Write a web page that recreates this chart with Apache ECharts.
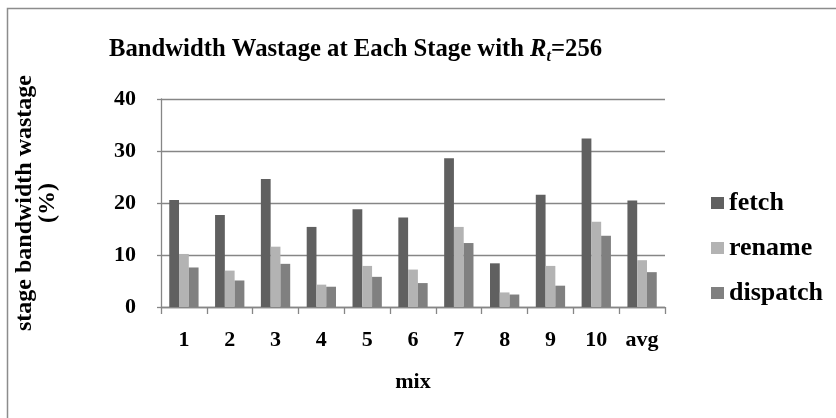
<!DOCTYPE html>
<html>
<head>
<meta charset="utf-8">
<script src="https://cdn.jsdelivr.net/npm/echarts@6/dist/echarts.min.js"></script>
<style>
  html, body { margin: 0; padding: 0; background: #fff; }
  #chart { width: 836px; height: 418px; }
</style>
</head>
<body>
<div id="chart"></div>
<script>
// Mix workloads along the x axis
const mixes = ['1', '2', '3', '4', '5', '6', '7', '8', '9', '10', 'avg'];

// Bandwidth wastage (%) per pipeline stage
const fetchWaste    = [20.6, 17.7, 24.6, 15.4, 18.8, 17.2, 28.6, 8.4, 21.6, 32.4, 20.5];
const renameWaste   = [10.2, 7.0, 11.6, 4.3, 7.9, 7.2, 15.4, 2.8, 7.9, 16.4, 9.0];
const dispatchWaste = [7.6, 5.1, 8.3, 3.9, 5.8, 4.6, 12.3, 2.4, 4.1, 13.7, 6.7];

const yTicks = [0, 10, 20, 30, 40];

const serif = 'Liberation Serif, Times New Roman, serif';
const gray = '#868686';

const chart = echarts.init(document.getElementById('chart'), null, { renderer: 'canvas' });

function bar(name, data, color) {
  return {
    name: name,
    type: 'bar',
    data: data,
    barGap: '0%',
    barCategoryGap: '36%',
    itemStyle: { color: color },
    emphasis: { disabled: true }
  };
}

chart.setOption({
  animation: false,
  backgroundColor: '#fff',
  graphic: [{
    type: 'rect',
    shape: { x: 7.5, y: 8.5, width: 900, height: 500 },
    style: { fill: 'none', stroke: '#8c8c8c', lineWidth: 1.5 },
    silent: true
  }],
  title: {
    text: '{n|Bandwidth Wastage at Each Stage with }{r|R}{s|t}{n|=256}',
    left: 104,
    top: 30,
    textStyle: {
      rich: {
        n: { fontFamily: serif, fontWeight: 'bold', fontSize: 24.7, color: '#000' },
        r: { fontFamily: serif, fontWeight: 'bold', fontStyle: 'italic', fontSize: 24.7, color: '#000' },
        s: { fontFamily: serif, fontWeight: 'bold', fontStyle: 'italic', fontSize: 16, color: '#000', padding: [14, 0, 0, 0] }
      }
    }
  },
  legend: {
    orient: 'vertical',
    left: 706,
    top: 185,
    itemWidth: 13,
    itemHeight: 12,
    itemGap: 19,
    icon: 'rect',
    textStyle: { fontFamily: serif, fontWeight: 'bold', fontSize: 26, color: '#000' },
    data: ['fetch', 'rename', 'dispatch']
  },
  grid: { left: 161, right: 171, top: 99, bottom: 111, containLabel: false },
  xAxis: {
    type: 'category',
    data: mixes,
    name: 'mix',
    nameLocation: 'middle',
    nameGap: 64,
    nameTextStyle: { fontFamily: serif, fontWeight: 'bold', fontSize: 22, color: '#000' },
    axisLine: { lineStyle: { color: gray, width: 1.3 } },
    axisTick: { show: true, length: 7, lineStyle: { color: gray, width: 1.3 } },
    axisLabel: { fontFamily: serif, fontWeight: 'bold', fontSize: 22, color: '#000', margin: 22 }
  },
  yAxis: {
    type: 'value',
    min: yTicks[0],
    max: yTicks[yTicks.length - 1],
    interval: 10,
    name: 'stage bandwidth wastage\n(%)',
    nameLocation: 'middle',
    nameGap: 102,
    nameTextStyle: { fontFamily: serif, fontWeight: 'bold', fontSize: 24, color: '#000', lineHeight: 23 },
    axisLine: { show: true, lineStyle: { color: gray, width: 1.3 } },
    axisTick: { show: true, length: 4, lineStyle: { color: gray, width: 1.3 } },
    splitLine: { lineStyle: { color: gray, width: 1.3 } },
    axisLabel: { fontFamily: serif, fontWeight: 'bold', fontSize: 22, color: '#000', margin: 25 }
  },
  series: [
    bar('fetch', fetchWaste, '#606060'),
    bar('rename', renameWaste, '#b3b3b3'),
    bar('dispatch', dispatchWaste, '#808080')
  ]
});
</script>
</body>
</html>
